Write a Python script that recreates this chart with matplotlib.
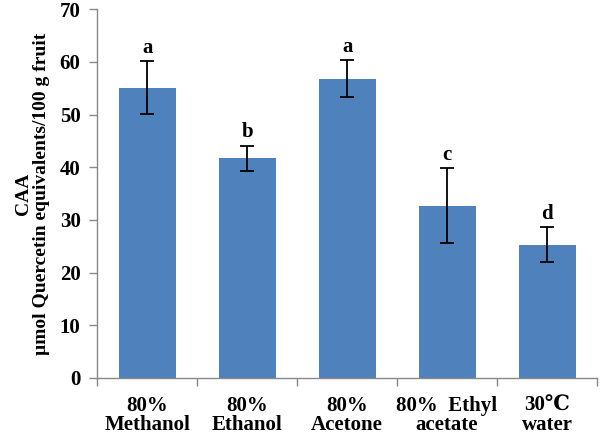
import matplotlib
matplotlib.use('Agg')
from matplotlib import pyplot as plt
import numpy as np

plt.rcParams['font.family'] = ['Liberation Serif', 'DejaVu Serif']
plt.rcParams['font.weight'] = 'bold'

# 数据
categories = ['80%\nMethanol', '80%\nEthanol', '80%\nAcetone', '80%  Ethyl\nacetate', '30\u2103\nwater']
values = [55.1, 41.7, 56.8, 32.7, 25.3]
errors = [5.0, 2.4, 3.5, 7.1, 3.3]
letters = ['a', 'b', 'a', 'c', 'd']

fig = plt.figure(figsize=(6, 4.38), dpi=100)
ax = fig.add_axes([0.162, 0.137, 0.833, 0.842])

x = np.arange(len(values))
ax.bar(x, values, width=0.57, color='#4F81BD', zorder=2)
ax.errorbar(x, values, yerr=errors, fmt='none', ecolor='black',
            elinewidth=1.3, capsize=5, capthick=1.3, zorder=3)

# 显著性字母
for xi, v, e, t in zip(x, values, errors, letters):
    ax.text(xi, v + e + 0.6, t, ha='center', va='bottom',
            fontsize=15, fontweight='bold')

ax.set_xlim(-0.5, len(values) - 0.5)
ax.set_ylim(0, 70)
ax.set_yticks(range(0, 71, 10))

# x轴：分隔刻度 + 居中标签
ax.set_xticks(x)
ax.set_xticklabels(categories, fontsize=15, fontweight='bold', linespacing=0.95)
ax.set_xticks(np.arange(-0.5, len(values), 1), minor=True)
ax.tick_params(axis='x', which='major', length=0, pad=13)
ax.tick_params(axis='x', which='minor', length=6, width=1, color='#888888', direction='out')
ax.tick_params(axis='y', length=6, width=1, color='#888888', direction='out', labelsize=15, pad=6)
for lab in ax.get_yticklabels():
    lab.set_fontweight('bold')

for s in ['top', 'right']:
    ax.spines[s].set_visible(False)
for s in ['left', 'bottom']:
    ax.spines[s].set_color('#888888')
    ax.spines[s].set_linewidth(1)

ax.set_ylabel('CAA\n\u00b5mol Quercetin equivalents/100 g fruit',
              fontsize=14, fontweight='bold', labelpad=7, linespacing=1.1)

plt.savefig('out.png', dpi=100)
